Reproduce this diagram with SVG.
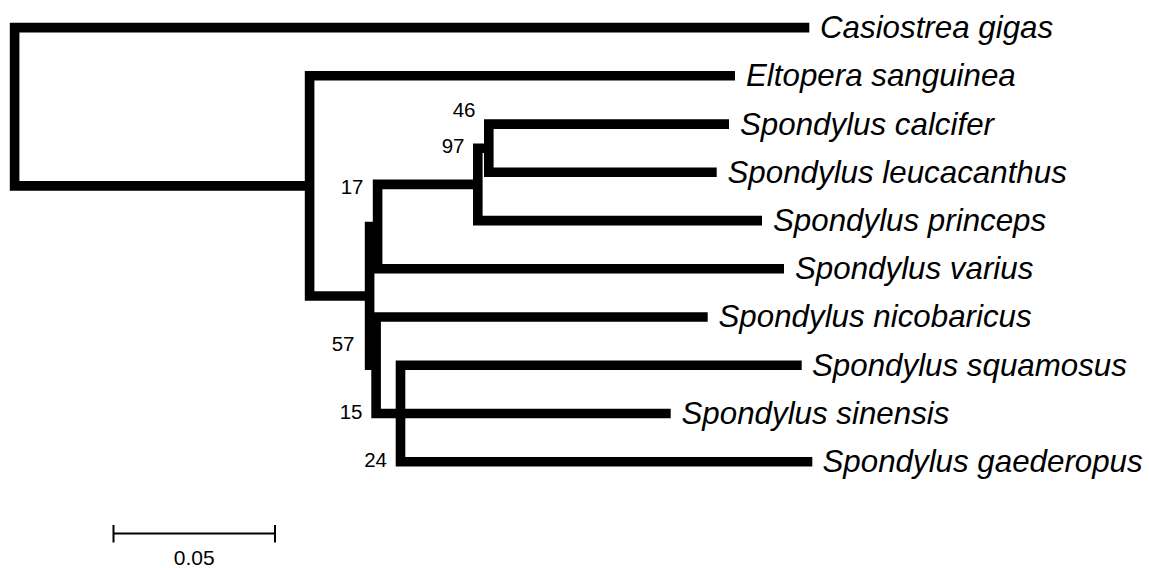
<svg xmlns="http://www.w3.org/2000/svg" width="1149" height="568" viewBox="0 0 1149 568">
<style>
.br{fill:none;stroke:#000;stroke-width:9.6;stroke-linejoin:miter;stroke-linecap:butt}
.tx{font-family:"Liberation Sans",Arial,sans-serif;font-style:italic;font-size:31.3px;fill:#000}
.bs{font-family:"Liberation Sans",Arial,sans-serif;font-size:20.5px;fill:#000;text-anchor:end}
.sc{fill:none;stroke:#000;stroke-width:2}
</style>
<rect width="1149" height="568" fill="#fff"/>
<g id="connectors">
<path class="br" d="M809.3 27.6 H14.6 V185.9 H309.6"/>
<path class="br" d="M735 75.8 H309.6 V296 H369.6"/>
<path class="br" d="M377.6 226.6 H369.6 V365.3 H376.1"/>
<path class="br" d="M477.8 184.4 H377.6 V268.8 H784"/>
<path class="br" d="M488.8 148.2 H477.8 V220.6 H762"/>
<path class="br" d="M729 124.1 H488.8 V172.3 H716.7"/>
<path class="br" d="M707.7 317 H376.1 V413.5 H400.5"/>
<path class="br" d="M801.7 365.3 H400.5 V461.8 H812.3"/>
<path class="br" d="M400.5 413.5 H670.7"/>
</g>
<g id="leaf-casiostrea"><text class="tx" x="820" y="38">Casiostrea gigas</text></g>
<g id="leaf-eltopera"><text class="tx" x="746" y="86.2">Eltopera sanguinea</text></g>
<g id="leaf-calcifer"><text class="tx" x="740" y="134.5">Spondylus calcifer</text></g>
<g id="leaf-leucacanthus"><text class="tx" x="727.5" y="182.7">Spondylus leucacanthus</text></g>
<g id="leaf-princeps"><text class="tx" x="773" y="231">Spondylus princeps</text></g>
<g id="leaf-varius"><text class="tx" x="795" y="279.2">Spondylus varius</text></g>
<g id="leaf-nicobaricus"><text class="tx" x="718.5" y="327.4">Spondylus nicobaricus</text></g>
<g id="leaf-squamosus"><text class="tx" x="812" y="375.7">Spondylus squamosus</text></g>
<g id="leaf-sinensis"><text class="tx" x="681.5" y="423.9">Spondylus sinensis</text></g>
<g id="leaf-gaederopus"><text class="tx" x="822.5" y="472.2">Spondylus gaederopus</text></g>
<g id="node-46"><text class="bs" x="475.5" y="117.3">46</text></g>
<g id="node-97"><text class="bs" x="464.5" y="153.3">97</text></g>
<g id="node-17"><text class="bs" x="363.5" y="194.3">17</text></g>
<g id="node-57"><text class="bs" x="354.5" y="350.7">57</text></g>
<g id="node-15"><text class="bs" x="362.5" y="419.3">15</text></g>
<g id="node-24"><text class="bs" x="387" y="467.3">24</text></g>
<g id="scale-bar">
<path class="sc" d="M113.5 533.5 H275 M113.5 525 V542.5 M275 525 V542.5"/>
<text x="194.3" y="565" font-family="Liberation Sans,Arial,sans-serif" font-size="21" text-anchor="middle">0.05</text>
</g>
</svg>
